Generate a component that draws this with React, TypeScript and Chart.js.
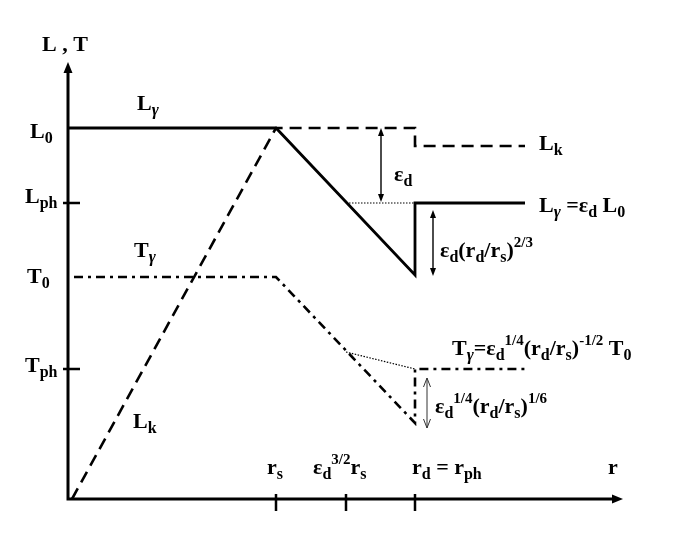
import React, { useEffect, useRef } from "react";
import { Chart, registerables } from "chart.js";

Chart.register(...registerables);

// ---- data (schematic units: x = radius axis, y = luminosity / temperature axis) ----
const X_MAX = 555;
const Y_MAX = 437;
const rTickValues = [208, 278, 347]; // r_s, eps^{3/2} r_s, r_d = r_ph
const levelTickValues = [296, 130]; // L_ph, T_ph

const lGammaX = [0, 208, 347, 347, 457];
const lGammaY = [371, 371, 224, 296, 296];

const lKinX = [4, 208, 347, 347, 457];
const lKinY = [0, 371, 371, 353, 353];

const tGammaX = [6, 208, 347, 347, 459];
const tGammaY = [222, 222, 76, 130, 130];

const lDottedX = [278, 347];
const lDottedY = [296, 296];
const tDottedX = [278, 347];
const tDottedY = [147, 130];

// double arrows: x, yFrom, yTo
const arrowEpsD = [313, 371, 297];
const arrowEpsD23 = [365, 289, 223];
const arrowEps14 = [359, 121, 71];

type Seg = [string, string];
// n = normal, b = subscript, g = italic subscript, p = superscript
const labels: { x: number; y: number; segs: Seg[] }[] = [
  { x: -26, y: 448, segs: [["L , T", "n"]] },
  { x: -38, y: 361, segs: [["L", "n"], ["0", "b"]] },
  { x: -43, y: 296, segs: [["L", "n"], ["ph", "b"]] },
  { x: -41, y: 216, segs: [["T", "n"], ["0", "b"]] },
  { x: -43, y: 127, segs: [["T", "n"], ["ph", "b"]] },
  { x: 69, y: 389, segs: [["L", "n"], ["γ", "g"]] },
  { x: 66, y: 242, segs: [["T", "n"], ["γ", "g"]] },
  { x: 65, y: 71, segs: [["L", "n"], ["k", "b"]] },
  { x: 326, y: 318, segs: [["ε", "n"], ["d", "b"]] },
  { x: 471, y: 349, segs: [["L", "n"], ["k", "b"]] },
  { x: 471, y: 287, segs: [["L", "n"], ["γ", "g"], [" =ε", "n"], ["d", "b"], [" L", "n"], ["0", "b"]] },
  { x: 372, y: 242, segs: [["ε", "n"], ["d", "b"], ["(r", "n"], ["d", "b"], ["/r", "n"], ["s", "b"], [")", "n"], ["2/3", "p"]] },
  { x: 384, y: 144, segs: [["T", "n"], ["γ", "g"], ["=ε", "n"], ["d", "b"], ["1/4", "p"], ["(r", "n"], ["d", "b"], ["/r", "n"], ["s", "b"], [")", "n"], ["-1/2", "p"], [" T", "n"], ["0", "b"]] },
  { x: 367, y: 86, segs: [["ε", "n"], ["d", "b"], ["1/4", "p"], ["(r", "n"], ["d", "b"], ["/r", "n"], ["s", "b"], [")", "n"], ["1/6", "p"]] },
  { x: 199, y: 25, segs: [["r", "n"], ["s", "b"]] },
  { x: 245, y: 25, segs: [["ε", "n"], ["d", "b"], ["3/2", "p"], ["r", "n"], ["s", "b"]] },
  { x: 344, y: 25, segs: [["r", "n"], ["d", "b"], [" = r", "n"], ["ph", "b"]] },
  { x: 540, y: 25, segs: [["r", "n"]] },
];

const FONT = '"Liberation Serif", "DejaVu Serif", serif';

function pts(xs: number[], ys: number[]) {
  return xs.map((x, i) => ({ x, y: ys[i] }));
}

const schematicPlugin = {
  id: "schematic",
  afterDatasetsDraw(chart: any) {
    const ctx: CanvasRenderingContext2D = chart.ctx;
    const xs = chart.scales.x;
    const ys = chart.scales.y;
    const px = (v: number) => xs.getPixelForValue(v);
    const py = (v: number) => ys.getPixelForValue(v);
    ctx.save();
    ctx.strokeStyle = "#000";
    ctx.fillStyle = "#000";
    ctx.setLineDash([]);

    // axes
    const ox = px(0), oy = py(0);
    const xe = px(X_MAX), yt = py(Y_MAX);
    ctx.lineWidth = 3;
    ctx.lineCap = "butt";
    ctx.beginPath();
    ctx.moveTo(ox, oy + 1.5);
    ctx.lineTo(ox, yt + 9);
    ctx.moveTo(ox - 1.5, oy);
    ctx.lineTo(xe - 9, oy);
    ctx.stroke();
    ctx.beginPath();
    ctx.moveTo(ox, yt);
    ctx.lineTo(ox - 4.5, yt + 11);
    ctx.lineTo(ox + 4.5, yt + 11);
    ctx.closePath();
    ctx.fill();
    ctx.beginPath();
    ctx.moveTo(xe, oy);
    ctx.lineTo(xe - 11, oy - 4.5);
    ctx.lineTo(xe - 11, oy + 4.5);
    ctx.closePath();
    ctx.fill();

    // ticks
    ctx.lineWidth = 2.5;
    ctx.beginPath();
    for (const v of rTickValues) {
      ctx.moveTo(px(v), oy - 5);
      ctx.lineTo(px(v), oy + 12);
    }
    for (const v of levelTickValues) {
      ctx.moveTo(ox - 5, py(v));
      ctx.lineTo(ox + 12, py(v));
    }
    ctx.stroke();

    // arrows
    const dbl = (a: number[], filled: boolean) => {
      const x = px(a[0]);
      const y1 = py(a[1]);
      const y2 = py(a[2]);
      const top = Math.min(y1, y2), bot = Math.max(y1, y2);
      if (filled) {
        ctx.strokeStyle = "#000";
        ctx.fillStyle = "#000";
        ctx.lineWidth = 1.4;
        ctx.beginPath();
        ctx.moveTo(x, top + 6);
        ctx.lineTo(x, bot - 6);
        ctx.stroke();
        for (const [tip, dir] of [[top, 1], [bot, -1]]) {
          ctx.beginPath();
          ctx.moveTo(x, tip);
          ctx.lineTo(x - 3, tip + dir * 8);
          ctx.lineTo(x + 3, tip + dir * 8);
          ctx.closePath();
          ctx.fill();
        }
      } else {
        ctx.strokeStyle = "#333";
        ctx.lineWidth = 1;
        ctx.beginPath();
        ctx.moveTo(x, top);
        ctx.lineTo(x, bot);
        ctx.moveTo(x - 3.5, top + 9);
        ctx.lineTo(x, top);
        ctx.lineTo(x + 3.5, top + 9);
        ctx.moveTo(x - 3.5, bot - 9);
        ctx.lineTo(x, bot);
        ctx.lineTo(x + 3.5, bot - 9);
        ctx.stroke();
      }
    };
    dbl(arrowEpsD, true);
    dbl(arrowEpsD23, true);
    dbl(arrowEps14, false);

    // labels
    ctx.fillStyle = "#000";
    ctx.textBaseline = "alphabetic";
    ctx.textAlign = "left";
    for (const lab of labels) {
      let cx = px(lab.x);
      const by = py(lab.y);
      for (const [t, k] of lab.segs) {
        let dy = 0;
        if (k === "n") ctx.font = `bold 22px ${FONT}`;
        else if (k === "b") { ctx.font = `bold 16px ${FONT}`; dy = 5; }
        else if (k === "g") { ctx.font = `italic bold 17px ${FONT}`; dy = 5; }
        else { ctx.font = `bold 15px ${FONT}`; dy = -10; }
        ctx.fillText(t, cx, by + dy);
        cx += ctx.measureText(t).width;
      }
    }
    ctx.restore();
  },
};

export default function App() {
  const ref = useRef<HTMLCanvasElement | null>(null);
  useEffect(() => {
    if (!ref.current) return;
    const common = { pointRadius: 0, showLine: true, fill: false, tension: 0, clip: false as any, borderColor: "#000" };
    const chart = new Chart(ref.current, {
      type: "scatter",
      data: {
        datasets: [
          { ...common, label: "Lγ", data: pts(lGammaX, lGammaY), borderWidth: 2.8, borderJoinStyle: "miter" },
          { ...common, label: "Lk", data: pts(lKinX, lKinY), borderWidth: 2.6, borderDash: [12, 7] },
          { ...common, label: "Tγ", data: pts(tGammaX, tGammaY), borderWidth: 2.6, borderDash: [9, 5, 3, 5] },
          { ...common, label: "L dotted", data: pts(lDottedX, lDottedY), borderWidth: 1.2, borderDash: [1.5, 1.5] },
          { ...common, label: "T dotted", data: pts(tDottedX, tDottedY), borderWidth: 1.2, borderDash: [1.5, 1.5] },
        ],
      },
      options: {
        animation: false,
        responsive: false,
        devicePixelRatio: 1,
        layout: { padding: { left: 68, right: 692 - 68 - X_MAX, top: 62, bottom: 55 } },
        scales: {
          x: { type: "linear", display: false, min: 0, max: X_MAX },
          y: { type: "linear", display: false, min: 0, max: Y_MAX },
        },
        plugins: { legend: { display: false }, tooltip: { enabled: false } },
        events: [],
      },
      plugins: [schematicPlugin],
    } as any);
    return () => chart.destroy();
  }, []);
  return (
    <div style={{ position: "absolute", left: 0, top: 0, width: 692, height: 554, background: "#fff" }}>
      <canvas ref={ref} width={692} height={554} style={{ display: "block", width: 692, height: 554 }} />
    </div>
  );
}
